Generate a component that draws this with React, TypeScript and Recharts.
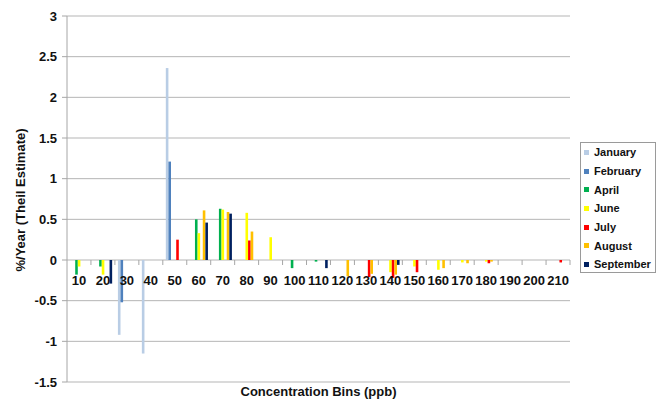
import { BarChart, Bar, XAxis, YAxis, CartesianGrid, Legend } from "recharts";

const bins = [
  "10", "20", "30", "40", "50", "60", "70", "80", "90", "100", "110",
  "120", "130", "140", "150", "160", "170", "180", "190", "200", "210",
];

// %/year per concentration bin, one list per month
const january = [0, 0, -0.92, -1.15, 2.36, 0, 0, 0, 0, 0, 0, 0, 0, 0, 0, 0, 0, 0, 0, 0, 0];
const february = [0, 0, -0.52, 0, 1.21, 0, 0, 0, 0, 0, 0, 0, 0, 0, 0, 0, 0, 0, 0, 0, 0];
const april = [-0.18, -0.08, 0, 0, 0, 0.5, 0.63, 0, 0, -0.1, -0.02, 0, 0, 0, 0, 0, 0, 0, 0, 0, 0];
const june = [-0.08, -0.18, 0, 0, 0, 0.33, 0.62, 0.58, 0.28, 0, 0, 0, 0, -0.15, -0.08, -0.12, -0.03, -0.02, 0, 0, 0];
const july = [0, 0, 0, 0, 0.25, 0, 0, 0.24, 0, 0, 0, 0, -0.21, -0.22, -0.15, 0, 0, -0.04, 0, 0, -0.03];
const august = [0, 0, 0, 0, 0, 0.61, 0.59, 0.35, 0, 0, 0, -0.2, -0.17, -0.18, 0, -0.1, -0.04, -0.02, 0, 0, 0];
const september = [0, -0.29, 0, 0, 0, 0.46, 0.57, 0, 0, 0, -0.1, 0, 0, -0.06, 0, 0, 0, 0, 0, 0, 0];

const yTicks = [-1.5, -1, -0.5, 0, 0.5, 1, 1.5, 2, 2.5, 3];

const series = [
  { key: "January", values: january, color: "#B9CDE5" },
  { key: "February", values: february, color: "#4F81BD" },
  { key: "April", values: april, color: "#00B050" },
  { key: "June", values: june, color: "#FFFF00" },
  { key: "July", values: july, color: "#FF0000" },
  { key: "August", values: august, color: "#FFC000" },
  { key: "September", values: september, color: "#002060" },
];

const data = bins.map((bin, i) => {
  const row: Record<string, string | number> = { bin };
  series.forEach((s) => {
    row[s.key] = s.values[i];
  });
  return row;
});

const W = 656;
const H = 401;
const TOP = 16;
const LEFT = 67;
const RIGHT = 86;
const XH = 19;
const PLOT_H = H - TOP - XH;
const STEP = (W - LEFT - RIGHT) / bins.length;
// category labels sit on the zero line, not at the bottom of the plot
const ZERO_Y = TOP + PLOT_H * (3 / 4.5);
const FONT = "'Liberation Sans', Arial, sans-serif";

function BinTick(props: any) {
  const { x, payload } = props;
  return (
    <g>
      <line x1={x + STEP / 2} x2={x + STEP / 2} y1={ZERO_Y} y2={ZERO_Y + 5} stroke="#a6a6a6" />
      <text
        x={x}
        y={ZERO_Y + 25}
        textAnchor="middle"
        fontFamily={FONT}
        fontWeight="bold"
        fontSize={13}
        fill="#111"
      >
        {payload.value}
      </text>
    </g>
  );
}

function MonthLegend() {
  return (
    <div
      style={{
        border: "1px solid #9a9a9a",
        background: "#fff",
        width: 76,
        height: 131,
        boxSizing: "border-box",
        padding: "0 0 0 3px",
        fontFamily: FONT,
        fontWeight: "bold",
        fontSize: 11,
        color: "#111",
      }}
    >
      {series.map((s) => (
        <div key={s.key} style={{ display: "flex", alignItems: "center", height: 18.7 }}>
          <span
            style={{
              display: "inline-block",
              width: 5,
              height: 5,
              background: s.color,
              marginRight: 5,
            }}
          />
          {s.key}
        </div>
      ))}
    </div>
  );
}

export default function App() {
  return (
    <div
      style={{
        position: "absolute",
        left: 0,
        top: 0,
        width: W,
        height: H,
        background: "#fff",
      }}
    >
      <BarChart
        width={W}
        height={H}
        data={data}
        margin={{ top: TOP, right: RIGHT, bottom: 0, left: 0 }}
        barGap={0}
        barSize={2.6}
      >
        <CartesianGrid vertical={false} stroke="#b5b5b5" />
        <XAxis
          dataKey="bin"
          height={XH}
          axisLine={false}
          tickLine={false}
          interval={0}
          tick={<BinTick />}
        />
        <YAxis
          width={LEFT}
          domain={[-1.5, 3]}
          ticks={yTicks}
          interval={0}
          axisLine={{ stroke: "#a6a6a6" }}
          tickLine={{ stroke: "#a6a6a6" }}
          tickSize={5}
          tickMargin={5}
          tick={{ fontFamily: FONT, fontWeight: "bold", fontSize: 13, fill: "#111" }}
        />
        <Legend
          layout="vertical"
          align="center"
          verticalAlign="middle"
          wrapperStyle={{ left: 580, top: 142, width: 76 }}
          content={<MonthLegend />}
        />
        {series.map((s) => (
          <Bar key={s.key} dataKey={s.key} fill={s.color} isAnimationActive={false} />
        ))}
      </BarChart>
      <div
        style={{
          position: "absolute",
          left: 20,
          top: 200,
          transform: "translate(-50%, -50%) rotate(-90deg)",
          whiteSpace: "nowrap",
          fontFamily: FONT,
          fontWeight: "bold",
          fontSize: 13,
          color: "#111",
        }}
      >
        %/Year (Theil Estimate)
      </div>
      <div
        style={{
          position: "absolute",
          left: LEFT,
          width: W - LEFT - RIGHT,
          top: 384,
          textAlign: "center",
          fontFamily: FONT,
          fontWeight: "bold",
          fontSize: 13,
          color: "#111",
        }}
      >
        Concentration Bins (ppb)
      </div>
    </div>
  );
}
